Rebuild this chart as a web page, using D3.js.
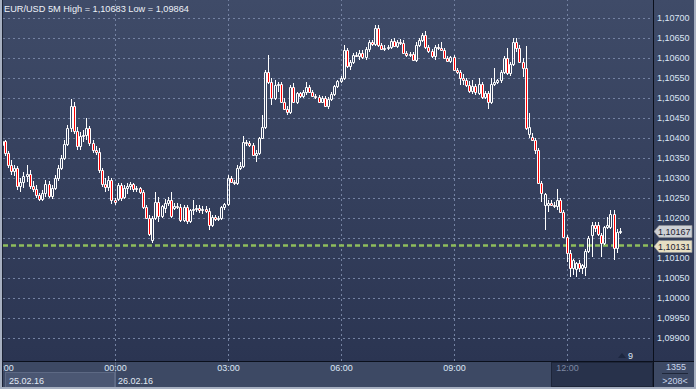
<!DOCTYPE html>
<html>
<head>
<meta charset="utf-8">
<script src="https://cdn.jsdelivr.net/npm/d3@7"></script>
<style>
  body { margin: 0; background: #2f3a55; overflow: hidden; }
  text { font-family: "Liberation Sans", Arial, sans-serif; }
</style>
</head>
<body>
<div id="chart-area"></div>
<script>
// EUR/USD 5M, candles from 25.02.16 21:00, one every 5 minutes
const opens = [
1.10383,1.10393,1.10363,1.10333,1.10318,1.10326,1.10281,1.10291,1.10306,1.10311,
1.10281,1.10273,1.10258,1.10248,1.10263,1.10286,1.10256,1.10276,1.10301,1.10326,
1.10351,1.10386,1.10426,1.10481,1.10418,1.10381,1.10406,1.10408,1.10426,1.10388,
1.10371,1.10366,1.10321,1.10286,1.10278,1.10296,1.10246,1.10248,1.10283,1.10253,
1.10276,1.10281,1.10286,1.10273,1.10276,1.10266,1.10228,1.10201,1.10146,1.10201,
1.10241,1.10206,1.10226,1.10238,1.10246,1.10226,1.10231,1.10228,1.10196,1.10228,
1.10193,1.10221,1.10223,1.10226,1.10221,1.10223,1.10218,1.10183,1.10203,1.10198,
1.10201,1.10228,1.10236,1.10301,1.10291,1.10288,1.10326,1.10331,1.10391,1.10388,
1.10383,1.10358,1.10363,1.10401,1.10428,1.10566,1.10541,1.10501,1.10533,1.10536,
1.10491,1.10473,1.10466,1.10528,1.10491,1.10513,1.10506,1.10516,1.10528,1.10516,
1.10506,1.10503,1.10491,1.10501,1.10481,1.10498,1.10511,1.10531,1.10543,1.10551,
1.10621,1.10581,1.10591,1.10608,1.10606,1.10613,1.10603,1.10623,1.10641,1.10636,
1.10676,1.10633,1.10623,1.10626,1.10628,1.10643,1.10631,1.10641,1.10638,1.10613,
1.10608,1.10611,1.10596,1.10633,1.10646,1.10658,1.10628,1.10618,1.10606,1.10628,
1.10626,1.10621,1.10601,1.10593,1.10603,1.10571,1.10566,1.10551,1.10546,1.10533,
1.10518,1.10531,1.10513,1.10536,1.10503,1.10513,1.10491,1.10536,1.10541,1.10546,
1.10566,1.10601,1.10563,1.10586,1.10641,1.10626,1.10591,1.10576,1.10411,1.10403,
1.10396,1.10371,1.10288,1.10233,1.10233,1.10238,1.10233,1.10231,1.10246,1.10216,
1.10153,1.10113,1.10076,1.10073,1.10088,1.10076,1.10078,1.10118,1.10158,1.10183,
1.10183,1.10158,1.10138,1.10178,1.10178,1.10211,1.10126,1.10166];

const highs = [
1.10408,1.10396,1.10368,1.10346,1.10333,1.10331,1.10301,1.10316,1.10333,1.10321,
1.10293,1.10283,1.10263,1.10271,1.10296,1.10293,1.10283,1.10308,1.10333,1.10358,
1.10396,1.10433,1.10498,1.10491,1.10428,1.10416,1.10421,1.10451,1.10431,1.10396,
1.10381,1.10376,1.10326,1.10301,1.10306,1.10301,1.10251,1.10288,1.10288,1.10283,
1.10288,1.10291,1.10288,1.10281,1.10278,1.10271,1.10233,1.10208,1.10206,1.10266,
1.10253,1.10233,1.10248,1.10253,1.10266,1.10238,1.10238,1.10236,1.10233,1.10233,
1.10223,1.10246,1.10233,1.10233,1.10231,1.10231,1.10226,1.10208,1.10208,1.10206,
1.10231,1.10238,1.10308,1.10306,1.10296,1.10333,1.10341,1.10406,1.10396,1.10393,
1.10388,1.10371,1.10403,1.10458,1.10571,1.10608,1.10551,1.10546,1.10541,1.10541,
1.10501,1.10481,1.10533,1.10538,1.10516,1.10516,1.10521,1.10541,1.10533,1.10521,
1.10511,1.10508,1.10506,1.10506,1.10503,1.10516,1.10533,1.10546,1.10556,1.10633,
1.10626,1.10596,1.10613,1.10616,1.10621,1.10621,1.10628,1.10646,1.10646,1.10683,
1.10683,1.10638,1.10633,1.10633,1.10648,1.10651,1.10646,1.10648,1.10646,1.10618,
1.10616,1.10616,1.10641,1.10651,1.10663,1.10668,1.10633,1.10623,1.10633,1.10636,
1.10641,1.10626,1.10606,1.10606,1.10608,1.10576,1.10571,1.10561,1.10551,1.10543,
1.10546,1.10536,1.10551,1.10541,1.10518,1.10518,1.10551,1.10576,1.10548,1.10571,
1.10606,1.10626,1.10591,1.10651,1.10651,1.10633,1.10601,1.10631,1.10463,1.10413,
1.10401,1.10376,1.10293,1.10263,1.10246,1.10246,1.10241,1.10273,1.10251,1.10221,
1.10158,1.10121,1.10098,1.10091,1.10096,1.10086,1.10123,1.10156,1.10191,1.10191,
1.10191,1.10163,1.10181,1.10203,1.10221,1.10221,1.10173,1.10176];

const lows = [
1.10378,1.10356,1.10326,1.10308,1.10306,1.10271,1.10266,1.10276,1.10291,1.10273,
1.10266,1.10251,1.10243,1.10243,1.10253,1.10251,1.10248,1.10271,1.10293,1.10321,
1.10346,1.10381,1.10416,1.10411,1.10371,1.10371,1.10391,1.10396,1.10381,1.10363,
1.10358,1.10313,1.10278,1.10266,1.10268,1.10236,1.10233,1.10243,1.10243,1.10248,
1.10261,1.10271,1.10266,1.10266,1.10261,1.10223,1.10198,1.10156,1.10138,1.10196,
1.10191,1.10201,1.10213,1.10231,1.10201,1.10221,1.10223,1.10191,1.10191,1.10186,
1.10188,1.10208,1.10216,1.10213,1.10211,1.10213,1.10171,1.10178,1.10193,1.10193,
1.10196,1.10221,1.10231,1.10288,1.10283,1.10283,1.10321,1.10326,1.10381,1.10378,
1.10356,1.10341,1.10358,1.10398,1.10423,1.10536,1.10483,1.10496,1.10516,1.10488,
1.10471,1.10458,1.10461,1.10488,1.10486,1.10501,1.10501,1.10508,1.10513,1.10503,
1.10498,1.10488,1.10488,1.10478,1.10473,1.10493,1.10506,1.10526,1.10538,1.10546,
1.10576,1.10571,1.10586,1.10603,1.10596,1.10598,1.10596,1.10616,1.10631,1.10631,
1.10628,1.10621,1.10618,1.10621,1.10623,1.10628,1.10626,1.10633,1.10611,1.10603,
1.10603,1.10593,1.10591,1.10628,1.10641,1.10623,1.10613,1.10601,1.10596,1.10621,
1.10618,1.10598,1.10591,1.10588,1.10568,1.10561,1.10533,1.10533,1.10528,1.10513,
1.10511,1.10508,1.10508,1.10498,1.10498,1.10473,1.10486,1.10531,1.10536,1.10538,
1.10561,1.10558,1.10556,1.10581,1.10616,1.10588,1.10553,1.10421,1.10401,1.10393,
1.10361,1.10286,1.10241,1.10171,1.10216,1.10231,1.10226,1.10221,1.10213,1.10151,
1.10091,1.10053,1.10058,1.10053,1.10066,1.10061,1.10056,1.10113,1.10103,1.10166,
1.10156,1.10103,1.10133,1.10173,1.10173,1.10096,1.10113,1.10161];

const closes = [
1.10393,1.10363,1.10333,1.10318,1.10326,1.10281,1.10291,1.10306,1.10311,1.10281,
1.10273,1.10258,1.10248,1.10263,1.10286,1.10256,1.10276,1.10301,1.10326,1.10351,
1.10386,1.10426,1.10481,1.10418,1.10381,1.10406,1.10408,1.10426,1.10388,1.10371,
1.10366,1.10321,1.10286,1.10278,1.10296,1.10246,1.10241,1.10283,1.10251,1.10276,
1.10281,1.10286,1.10273,1.10276,1.10266,1.10228,1.10201,1.10161,1.10201,1.10241,
1.10206,1.10231,1.10238,1.10246,1.10206,1.10231,1.10228,1.10196,1.10228,1.10193,
1.10221,1.10223,1.10226,1.10221,1.10223,1.10218,1.10183,1.10203,1.10198,1.10201,
1.10228,1.10236,1.10301,1.10291,1.10288,1.10326,1.10331,1.10391,1.10388,1.10383,
1.10358,1.10363,1.10401,1.10428,1.10566,1.10541,1.10501,1.10533,1.10536,1.10491,
1.10473,1.10466,1.10528,1.10491,1.10513,1.10506,1.10516,1.10528,1.10516,1.10506,
1.10503,1.10491,1.10501,1.10481,1.10498,1.10511,1.10531,1.10543,1.10551,1.10621,
1.10581,1.10591,1.10608,1.10606,1.10613,1.10603,1.10623,1.10641,1.10636,1.10676,
1.10633,1.10623,1.10626,1.10628,1.10643,1.10631,1.10641,1.10638,1.10613,1.10608,
1.10611,1.10596,1.10633,1.10646,1.10658,1.10628,1.10618,1.10606,1.10628,1.10626,
1.10621,1.10601,1.10593,1.10603,1.10571,1.10566,1.10551,1.10546,1.10533,1.10518,
1.10531,1.10516,1.10536,1.10503,1.10513,1.10491,1.10536,1.10541,1.10546,1.10566,
1.10601,1.10563,1.10586,1.10641,1.10626,1.10591,1.10576,1.10426,1.10428,1.10396,
1.10371,1.10288,1.10263,1.10261,1.10238,1.10233,1.10231,1.10246,1.10216,1.10153,
1.10113,1.10076,1.10096,1.10088,1.10076,1.10083,1.10118,1.10151,1.10183,1.10176,
1.10161,1.10138,1.10178,1.10183,1.10211,1.10126,1.10166,1.10167];

const priceTicks = [1.099, 1.0995, 1.1, 1.1005, 1.101, 1.1015, 1.102, 1.1025, 1.103,
                    1.1035, 1.104, 1.1045, 1.105, 1.1055, 1.106, 1.1065, 1.107];
const timeTicks = ['2016-02-25T21:00', '2016-02-26T00:00', '2016-02-26T03:00',
                   '2016-02-26T06:00', '2016-02-26T09:00', '2016-02-26T12:00'];
const dateLabels = [['2016-02-25T21:00', '25.02.16'], ['2016-02-26T00:00', '26.02.16']];
const headerHigh = 1.10683, headerLow = 1.09864;
const bidPrice = 1.10167, linePrice = 1.10131;
const barCount = 1355, visibleBars = 208, markerCount = 9;

const W = 696, H = 389;
const left = 3, right = 653, bottom = 361;

const parse = d3.timeParse('%Y-%m-%dT%H:%M');
const fmt = v => d3.format('.5f')(v).replace('.', ',');

const svg = d3.select('#chart-area').append('svg')
    .attr('width', W).attr('height', H);

const defs = svg.append('defs');
const grad = defs.append('linearGradient').attr('id', 'bg')
    .attr('x1', 0).attr('y1', 0).attr('x2', 0).attr('y2', 1);
grad.append('stop').attr('offset', '0%').attr('stop-color', '#3f4b68');
grad.append('stop').attr('offset', '100%').attr('stop-color', '#2b3552');
defs.append('clipPath').attr('id', 'plotClip').append('rect')
    .attr('x', left).attr('y', 0).attr('width', right - left).attr('height', bottom);
defs.append('clipPath').attr('id', 'axisClip').append('rect')
    .attr('x', left).attr('y', bottom).attr('width', right - left).attr('height', H - bottom);

// fundos
svg.append('rect').attr('x', 0).attr('y', 0).attr('width', W).attr('height', bottom)
    .attr('fill', 'url(#bg)');
svg.append('rect').attr('x', 0).attr('y', bottom).attr('width', W).attr('height', H - bottom)
    .attr('fill', '#3d4964');

// escalas
const x = d3.scaleTime()
    .domain([parse('2016-02-26T00:00'), parse('2016-02-26T12:00')])
    .range([115, 567]);
const y = d3.scaleLinear()
    .domain([1.099, 1.107])
    .range([338, 18]);

const t0 = parse('2016-02-25T21:00');
const candles = closes.map((c, i) => ({
    t: d3.timeMinute.offset(t0, i * 5), o: opens[i], h: highs[i], l: lows[i], c: c
}));

// grade horizontal
const gridY = svg.append('g')
    .attr('transform', `translate(${left},0)`)
    .call(d3.axisRight(y).tickValues(priceTicks).tickSize(right - left).tickFormat(''));
gridY.select('.domain').remove();
gridY.selectAll('line').attr('stroke', '#7482a2').attr('stroke-dasharray', '2,3');

// grade vertical
const gridX = svg.append('g')
    .attr('transform', `translate(0,${bottom})`)
    .call(d3.axisBottom(x).tickValues(timeTicks.slice(1).map(parse)).tickSize(-bottom).tickFormat(''));
gridX.select('.domain').remove();
gridX.selectAll('line').attr('stroke', '#7482a2').attr('stroke-dasharray', '2,3');

// linha tracejada verde
svg.append('line')
    .attr('x1', left).attr('x2', right)
    .attr('y1', y(linePrice)).attr('y2', y(linePrice))
    .attr('stroke', '#8fbd5c').attr('stroke-width', 2.5)
    .attr('stroke-dasharray', '5,3');

// candles
const gc = svg.append('g').attr('clip-path', 'url(#plotClip)');
const px = d => Math.floor(x(d.t));
const bodyTop = d => Math.round(y(Math.max(d.o, d.c)));
const bodyBot = d => Math.round(y(Math.min(d.o, d.c)));

gc.selectAll('.wick-up').data(candles).enter().append('line')
    .attr('x1', d => px(d) + 0.5).attr('x2', d => px(d) + 0.5)
    .attr('y1', d => Math.round(y(d.h))).attr('y2', d => bodyTop(d))
    .attr('stroke', '#ffffff');
gc.selectAll('.wick-down').data(candles).enter().append('line')
    .attr('x1', d => px(d) + 0.5).attr('x2', d => px(d) + 0.5)
    .attr('y1', d => bodyBot(d) + 1).attr('y2', d => Math.round(y(d.l)))
    .attr('stroke', '#ffffff');
gc.selectAll('.body').data(candles).enter().append('path')
    .attr('d', d => `M${px(d) - 0.5},${bodyTop(d) + 0.5}h2v${bodyBot(d) - bodyTop(d)}h-2Z`)
    .attr('fill', d => d.c < d.o ? '#ff0000' : 'none')
    .attr('stroke', '#ffffff');

// eixo de preço (o rótulo que fica sob as etiquetas não aparece)
const hidden = v => Math.abs(y(v) - y(bidPrice)) < 9 || Math.abs(y(v) - y(linePrice)) < 9;
const axisY = svg.append('g')
    .attr('transform', `translate(657,0)`)
    .call(d3.axisRight(y).tickValues(priceTicks.filter(v => !hidden(v)))
        .tickSize(0).tickPadding(0).tickFormat(fmt));
axisY.select('.domain').remove();
axisY.selectAll('text')
    .attr('fill', '#dce6f5').attr('font-size', '9px')
    .attr('font-family', '"Liberation Sans", Arial, sans-serif');

// etiquetas de preço
function priceTag(v, fill) {
    const yc = Math.round(y(v)) + 0.5;
    svg.append('path')
        .attr('d', `M654,${yc}L659,${yc - 6}H692V${yc + 6}H659Z`)
        .attr('fill', fill).attr('stroke', '#8d8f94').attr('stroke-width', 0.7);
    svg.append('text').attr('x', 658).attr('y', yc + 3.5)
        .attr('font-size', '9px').attr('fill', '#1e2230')
        .text(fmt(v));
}
priceTag(bidPrice, '#cdd0d5');
priceTag(linePrice, '#e7dfc3');

// linhas pretas
svg.append('line').attr('x1', right + 0.5).attr('x2', right + 0.5).attr('y1', 0).attr('y2', H)
    .attr('stroke', '#0b101c');
svg.append('line').attr('x1', 0).attr('x2', W).attr('y1', bottom + 0.5).attr('y2', bottom + 0.5)
    .attr('stroke', '#0b101c');

// painel de tempo
svg.append('rect').attr('x', 551.5).attr('y', 362.5).attr('width', 101).attr('height', 24)
    .attr('fill', '#28324b').attr('stroke', '#1d2539');
svg.append('rect').attr('x', 5.5).attr('y', 372.5).attr('width', 109).attr('height', 15)
    .attr('fill', '#4b5773').attr('stroke', '#5d6984');
svg.append('line').attr('x1', 115.5).attr('x2', 115.5).attr('y1', 362).attr('y2', 388)
    .attr('stroke', '#606c87');

const axisX = svg.append('g')
    .attr('clip-path', 'url(#axisClip)')
    .append('g')
    .attr('transform', `translate(0,${bottom + 1})`)
    .call(d3.axisBottom(x).tickValues(timeTicks.map(parse)).tickSize(0).tickPadding(3)
        .tickFormat(d3.timeFormat('%H:%M')));
axisX.select('.domain').remove();
axisX.selectAll('text')
    .attr('fill', (d, i) => i === timeTicks.length - 1 ? '#7d88a2' : '#dce6f5')
    .attr('font-size', '9px')
    .attr('font-family', '"Liberation Sans", Arial, sans-serif');

svg.append('g').selectAll('text').data(dateLabels).enter().append('text')
    .attr('x', (d, i) => i === 0 ? 9 : x(parse(d[0])) + 3)
    .attr('y', 383.5)
    .attr('font-size', '9px').attr('fill', '#e2e9f5')
    .text(d => d[1]);

// titulo
svg.append('text').attr('x', 4).attr('y', 11.5)
    .attr('font-size', '9.2px').attr('fill', '#eef2f8')
    .text(`EUR/USD 5M High = ${fmt(headerHigh)} Low = ${fmt(headerLow)}`);

// marcador "9"
svg.append('path').attr('d', 'M618,358L622,353L626,358Z').attr('fill', '#1d2740');
svg.append('text').attr('x', 628).attr('y', 358.5)
    .attr('font-size', '9px').attr('fill', '#dce6f5').text(markerCount);

// canto inferior direito
svg.append('text').attr('x', 676).attr('y', 370).attr('text-anchor', 'middle')
    .attr('font-size', '9px').attr('fill', '#c9d6ec').text(barCount);
svg.append('line').attr('x1', 662).attr('x2', 688).attr('y1', 373.5).attr('y2', 373.5)
    .attr('stroke', '#1f273a');
svg.append('text').attr('x', 675).attr('y', 383.5).attr('text-anchor', 'middle')
    .attr('font-size', '9px').attr('fill', '#c9d6ec').text(`>${visibleBars}<`);

// bordas claras
svg.append('rect').attr('x', 0).attr('y', 0).attr('width', 2).attr('height', H).attr('fill', '#a7b0c1');
svg.append('rect').attr('x', 2).attr('y', 0).attr('width', 1).attr('height', H).attr('fill', '#1b2234');
svg.append('rect').attr('x', 0).attr('y', 387).attr('width', W).attr('height', 2).attr('fill', '#a7b0c1');
svg.append('rect').attr('x', 694).attr('y', 0).attr('width', 2).attr('height', H).attr('fill', '#a7b0c1');
</script>
</body>
</html>
